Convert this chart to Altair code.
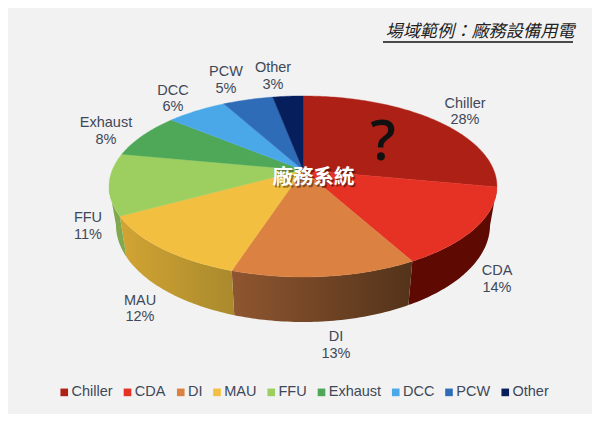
import math
import altair as alt
import pandas as pd

# ---- data ----
SLICES = ["Chiller", "CDA", "DI", "MAU", "FFU", "Exhaust", "DCC", "PCW", "Other"]
SHARES = [28, 14, 13, 12, 11, 8, 6, 5, 3]
COLORS = ["#AD2015", "#E63225", "#DB8242", "#F2BF40", "#9DCF60",
          "#4EA858", "#4AA8E8", "#2F6CB8", "#061F5C"]
TITLE = "場域範例：廠務設備用電"
CENTER = "廠務系統"

# ---- layout / style ----
BG = "#F2F2F2"
TEXT = "#404858"
OFF = 8
WALLS = {"CDA": ("#5E0A03", "#5E0A03"), "DI": ("#8F5630", "#53331A"),
         "MAU": ("#D2A433", "#A98A2D"), "FFU": ("#7FA84F", "#7FA84F")}
LABEL_AT = {"Chiller": (465, 103.5), "CDA": (497, 271), "DI": (336, 337), "MAU": (140, 300.5),
            "FFU": (88, 218), "Exhaust": (106, 123), "DCC": (173, 90.5), "PCW": (226, 72), "Other": (273, 68)}
P = 0.182
TOP = dict(cy=170 - OFF, r=190.7, s=87.5)
BOT = dict(cy=207.3 - OFF, r=183.9, s=93.8)
CX = 303 - OFF
SIL_R, SIL_L = 100.5, 259.5


def rim(deg, g):
    a = math.radians(deg)
    u, v = math.sin(a), math.cos(a)
    w = 1 + P * v
    return [CX + g["r"] * u / w, g["cy"] - g["s"] * v / w]


def arc(d0, d1, g):
    n = max(2, int(abs(d1 - d0)) + 1)
    return [rim(d0 + (d1 - d0) * i / n, g) for i in range(n + 1)]


def feature(name, ring):
    ring = ring + [ring[0]]
    return {"type": "Feature", "properties": {"name": name},
            "geometry": {"type": "Polygon", "coordinates": [ring]}}


tops, walls = [], {}
acc = 0
for name, share in zip(SLICES, SHARES):
    d0, d1 = acc * 3.6, (acc + share) * 3.6
    acc += share
    tops.append(feature(name, [[CX, TOP["cy"]]] + arc(d0, d1, TOP)))
    a, b = max(d0, SIL_R), min(d1, SIL_L)
    if name in WALLS and a < b:
        walls[name] = feature(name, arc(a, b, TOP) + arc(b, a, BOT))

proj = alt.Projection(type="identity", scale=1, translate=[0, 0])
layers = []
for name, ft in walls.items():
    c0, c1 = WALLS[name]
    grad = alt.Gradient(gradient="linear", x1=0, x2=1, y1=0, y2=0,
                        stops=[alt.GradientStop(color=c0, offset=0), alt.GradientStop(color=c1, offset=1)])
    layers.append(alt.Chart(alt.Data(values=[ft], format=alt.DataFormat(type="json")))
                  .mark_geoshape(fill=grad, stroke=None).project(**proj.to_dict()))

top = (alt.Chart(alt.Data(values=tops, format=alt.DataFormat(type="json")))
       .mark_geoshape(strokeWidth=0.4)
       .encode(
           color=alt.Color("properties.name:N",
                           scale=alt.Scale(domain=SLICES, range=COLORS),
                           legend=alt.Legend(title=None, orient="none", legendX=49, legendY=377,
                                             direction="horizontal", columns=9, columnPadding=7.25,
                                             symbolType="square", symbolSize=58, symbolStrokeWidth=0,
                                             labelFont="Liberation Sans", labelFontSize=14.5,
                                             labelColor=TEXT, labelOffset=0, symbolOpacity=1)),
           stroke=alt.Color("properties.name:N", scale=alt.Scale(domain=SLICES, range=COLORS), legend=None),
       ).project(**proj.to_dict()))
layers.append(top)

labels = pd.DataFrame({
    "text": [f"{n}\n{s}%" for n, s in zip(SLICES, SHARES)],
    "x": [LABEL_AT[n][0] - OFF for n in SLICES],
    "y": [LABEL_AT[n][1] - OFF for n in SLICES],
})
X = alt.X("x:Q", scale=None, axis=None)
Y = alt.Y("y:Q", scale=None, axis=None)
layers.append(alt.Chart(labels).mark_text(font="Liberation Sans", fontSize=14.5, lineBreak="\n",
                                          lineHeight=16.5, color=TEXT, baseline="middle", align="center")
              .encode(x=X, y=Y, text="text:N"))


def note(text, x, y, **kw):
    return alt.Chart(pd.DataFrame({"t": [text]})).mark_text(align="center", baseline="middle", **kw).encode(
        x=alt.value(x - OFF), y=alt.value(y - OFF), text="t:N")


CJK = "Noto Sans CJK TC"
layers.append(note("?", 383, 143, font="Open Sans", fontSize=56, fontWeight=600, color="#111111"))
layers.append(note(CENTER, 315, 179.5, font=CJK, fontSize=20.5, fontWeight=700, color="#000000", opacity=0.4))
layers.append(note(CENTER, 313.5, 178, font=CJK, fontSize=20.5, fontWeight=700, color="#FFFFFF"))
layers.append(note(TITLE, 480, 32, font=CJK, fontSize=17.2, fontStyle="italic", color="#222222"))
layers.append(alt.Chart(pd.DataFrame({"a": [0]})).mark_rule(color="#111111", strokeWidth=1.5).encode(
    x=alt.value(383 - OFF), x2=alt.value(573 - OFF), y=alt.value(42 - OFF)))

chart = (alt.layer(*layers)
         .resolve_scale(color="shared")
         .properties(width=584, height=406, background=BG, padding=0,
                     autosize=alt.AutoSizeParams(type="none"))
         .configure_view(stroke=None))
chart.save("out.html", embed_options={"renderer": "svg", "actions": False})
